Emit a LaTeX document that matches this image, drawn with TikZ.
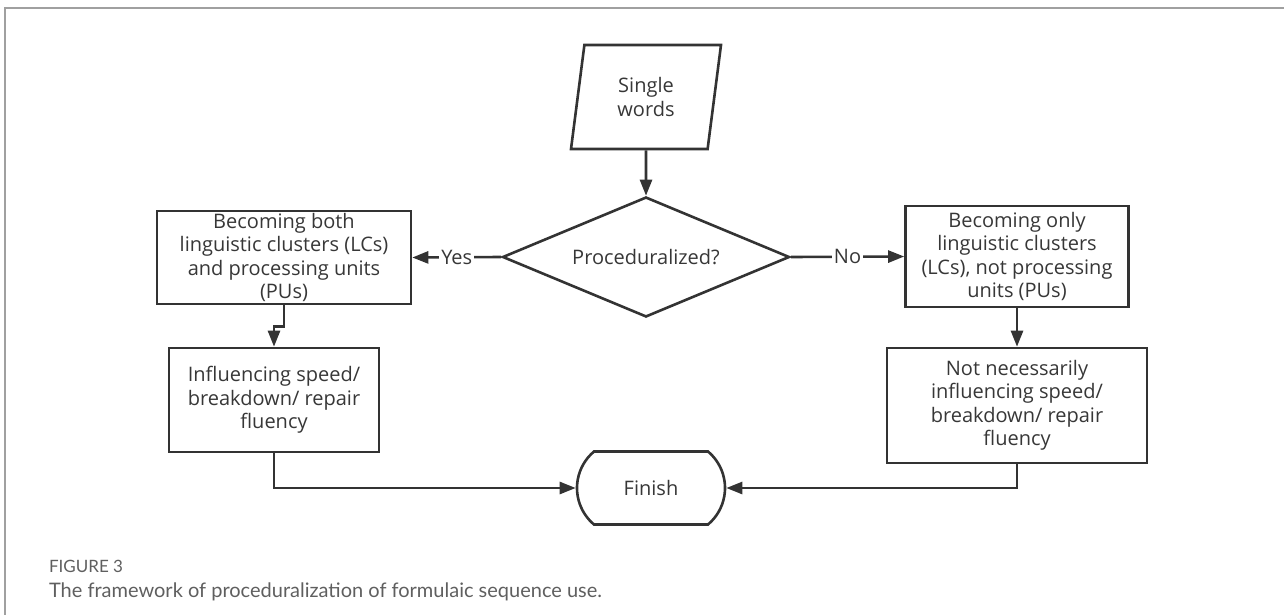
\documentclass[tikz,border=0pt]{standalone}
\usepackage{fontspec}
\setmainfont{Open Sans}
\newfontfamily\captionfont{Lato}
\usepackage{xcolor}
\usetikzlibrary{arrows.meta, positioning, shapes.geometric, shapes.misc}
\definecolor{linegray}{RGB}{51, 51, 51}
\definecolor{textgray}{RGB}{55, 55, 55}
\definecolor{framegray}{RGB}{160, 160, 160}
\definecolor{capgray}{RGB}{95, 95, 95}

\begin{document}
\begin{tikzpicture}[
    x=0.5pt, y=-0.5pt,
    boxtext/.style={font=\fontsize{10}{11.75}\selectfont, text=textgray, align=center},
    process/.style={rectangle, draw=linegray, line width=1.3pt, inner sep=0pt, boxtext},
    inputbox/.style={trapezium, draw=linegray, line width=1.3pt, trapezium left angle=71, trapezium right angle=109,
        trapezium stretches body, minimum width=75pt, minimum height=52pt, inner sep=0pt, boxtext},
    decision/.style={diamond, aspect=2.39, draw=linegray, line width=1.3pt, minimum width=143.5pt, minimum height=60pt,
        inner sep=0pt, boxtext},
    terminal/.style={rounded rectangle, rounded rectangle arc length=100, draw=linegray, line width=1.3pt,
        minimum width=74pt, minimum height=36.5pt, inner sep=0pt, boxtext},
    flow/.style={line width=1.3pt, linegray, -{Triangle[length=8pt, width=6pt]}},
    choice/.style={midway, fill=white, inner sep=1pt, boxtext}
]
\useasboundingbox (0,0) rectangle (1284,615);

% frame
\draw[framegray, line width=1pt] (5,615) -- (5,8) -- (1284,8);

% flow chart nodes
\node[inputbox] (words) at (646,97) {Single\\words};
\node[decision] (proc) at (646,257) {Proceduralized?};
\node[process, minimum width=127pt, minimum height=46.5pt] (both) at (284,257.5)
    {Becoming both\\linguistic clusters (LCs)\\and processing units\\(PUs)};
\node[process, minimum width=111.5pt, minimum height=50.5pt] (only) at (1017,256.5)
    {Becoming only\\linguistic clusters\\(LCs), not processing\\units (PUs)};
\node[process, minimum width=105pt, minimum height=52pt] (infl) at (274,400)
    {Influencing speed/\\breakdown/ repair\\fluency};
\node[process, minimum width=130pt, minimum height=57.5pt] (notinfl) at (1017,405.5)
    {Not necessarily\\influencing speed/\\breakdown/ repair\\fluency};
\node[terminal] (finish) at (651,488) {Finish};

% connectors
\draw[flow] (words) -- (proc);
\draw[flow] (proc.west) -- (both.east) node[choice] {Yes};
\draw[flow] (proc.east) -- (only.west) node[choice] {No};
\draw[flow] (both.south) -- ++(0,21) -| (infl.north);
\draw[flow] (only) -- (notinfl);
\draw[flow] (infl.south) |- (finish.west);
\draw[flow] (notinfl.south) |- (finish.east);

% caption
\node[anchor=west, font=\captionfont\fontsize{8.5}{10}\selectfont, text=capgray] (figno) at (42,566) {FIGURE 3};
\node[anchor=west, font=\captionfont\fontsize{10}{12}\selectfont, text=capgray] (figcap) at (42,592)
    {The framework of proceduralization of formulaic sequence use.};

\end{tikzpicture}
\end{document}
